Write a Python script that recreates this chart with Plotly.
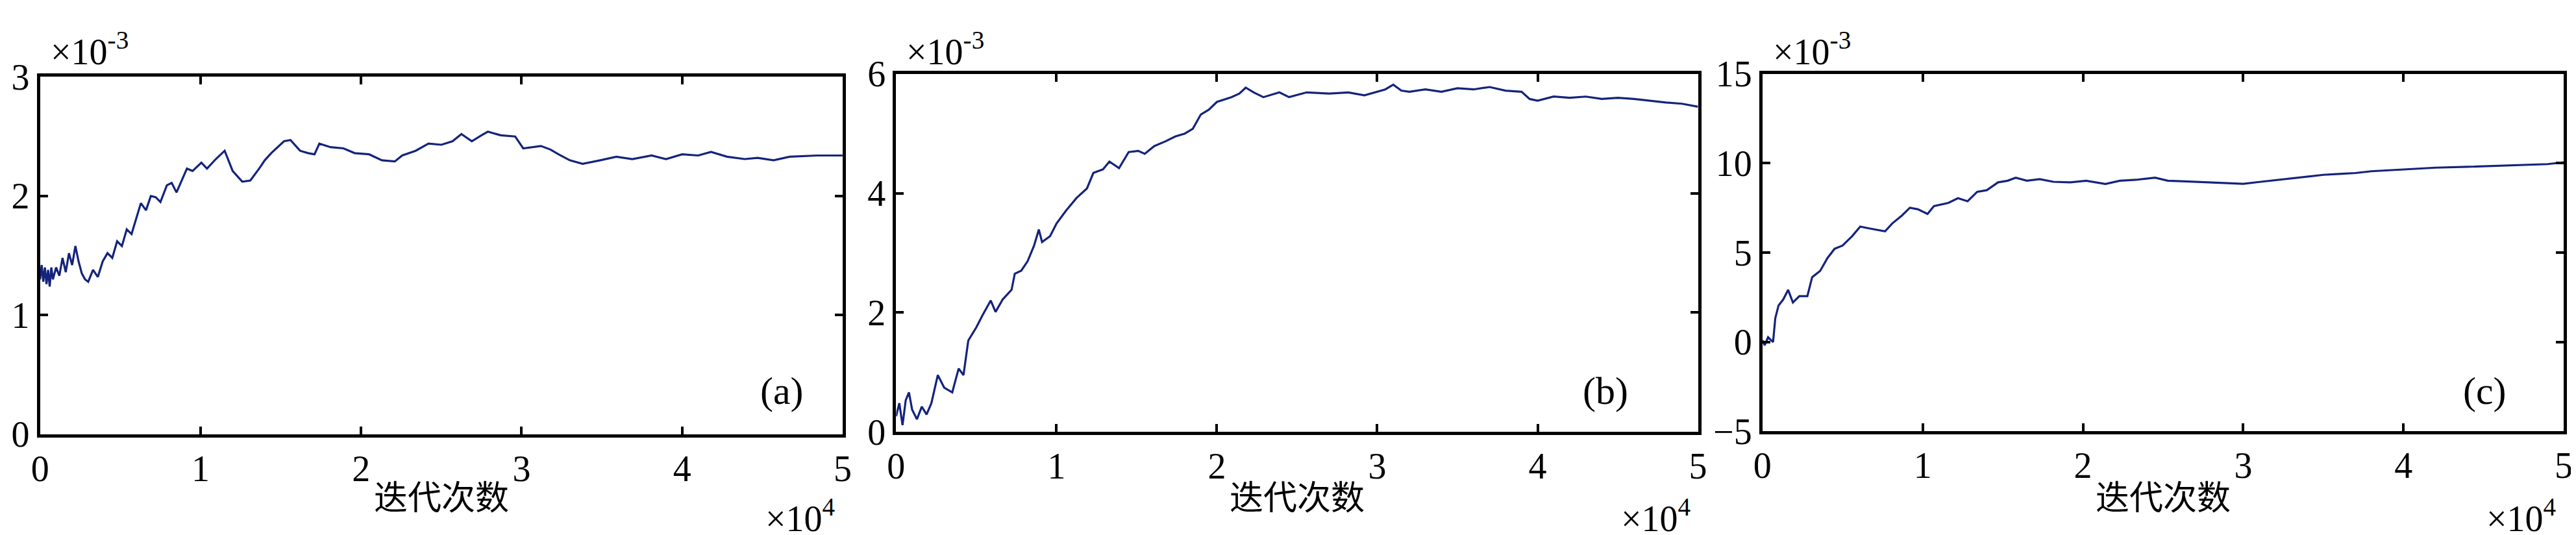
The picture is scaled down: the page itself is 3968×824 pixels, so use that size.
import plotly.graph_objects as go

# ---------------- data (x in units of 1e4 iterations, y in units of 1e-3) ----------------
a_x = [0.00, 0.01, 0.02, 0.03, 0.04, 0.05, 0.06, 0.07, 0.08, 0.10, 0.12, 0.14, 0.16, 0.18,
       0.20, 0.22, 0.24, 0.26, 0.28, 0.30, 0.33, 0.36, 0.39, 0.42, 0.45, 0.48, 0.51, 0.54,
       0.57, 0.60, 0.628, 0.66, 0.69, 0.72, 0.75, 0.79, 0.82, 0.85, 0.88, 0.915, 0.95,
       1.005, 1.04, 1.095, 1.15, 1.20, 1.26, 1.31, 1.365, 1.40, 1.44, 1.52, 1.56, 1.62,
       1.67, 1.71, 1.74, 1.81, 1.89, 1.96, 2.05, 2.13, 2.21, 2.256, 2.34, 2.42, 2.50, 2.57,
       2.625, 2.69, 2.75, 2.79, 2.87, 2.96, 3.01, 3.12, 3.18, 3.23, 3.30, 3.38, 3.49, 3.59,
       3.69, 3.81, 3.90, 4.00, 4.10, 4.18, 4.28, 4.39, 4.47, 4.57, 4.67, 4.84, 5.00]
a_y = [1.30, 1.42, 1.28, 1.40, 1.26, 1.38, 1.24, 1.40, 1.30, 1.40, 1.33, 1.48, 1.36, 1.52,
       1.42, 1.58, 1.45, 1.35, 1.30, 1.28, 1.38, 1.32, 1.45, 1.52, 1.48, 1.62, 1.58, 1.72,
       1.68, 1.82, 1.94, 1.88, 2.00, 1.99, 1.95, 2.09, 2.11, 2.03, 2.12, 2.23, 2.21,
       2.28, 2.23, 2.31, 2.38, 2.21, 2.12, 2.13, 2.23, 2.30, 2.36, 2.46, 2.47, 2.38,
       2.36, 2.35, 2.44, 2.41, 2.40, 2.36, 2.35, 2.30, 2.29, 2.34, 2.38, 2.44, 2.43, 2.46,
       2.52, 2.46, 2.51, 2.54, 2.51, 2.50, 2.40, 2.42, 2.39, 2.35, 2.30, 2.27, 2.30, 2.33,
       2.31, 2.34, 2.31, 2.35, 2.34, 2.37, 2.33, 2.31, 2.32, 2.30, 2.33, 2.34, 2.34]

b_x = [0.00, 0.02, 0.04, 0.06, 0.08, 0.10, 0.13, 0.16, 0.19, 0.22, 0.26, 0.30, 0.35, 0.39,
       0.42, 0.45, 0.50, 0.54, 0.59, 0.62, 0.665, 0.72, 0.74, 0.78, 0.82, 0.86, 0.89, 0.91,
       0.96, 1.00, 1.06, 1.125, 1.19, 1.23, 1.29, 1.33, 1.39, 1.45, 1.51, 1.55, 1.61, 1.68,
       1.74, 1.80, 1.85, 1.90, 1.95, 2.00, 2.09, 2.14, 2.18, 2.23, 2.29, 2.39, 2.45, 2.56,
       2.70, 2.82, 2.92, 3.00, 3.05, 3.10, 3.15, 3.20, 3.30, 3.40, 3.50, 3.60, 3.70, 3.80,
       3.90, 3.95, 4.00, 4.10, 4.20, 4.30, 4.40, 4.50, 4.60, 4.70, 4.80, 4.90, 5.00]
b_y = [0.26, 0.48, 0.11, 0.53, 0.66, 0.37, 0.21, 0.42, 0.29, 0.48, 0.95, 0.74, 0.66, 1.06,
       0.95, 1.53, 1.75, 1.96, 2.20, 2.01, 2.22, 2.38, 2.65, 2.70, 2.86, 3.12, 3.39, 3.18,
       3.28, 3.49, 3.71, 3.92, 4.08, 4.34, 4.40, 4.53, 4.42, 4.69, 4.71, 4.66, 4.79, 4.87,
       4.95, 5.00, 5.08, 5.32, 5.40, 5.53, 5.61, 5.67, 5.77, 5.69, 5.61, 5.69, 5.61, 5.69,
       5.67, 5.69, 5.64, 5.70, 5.74, 5.82, 5.72, 5.70, 5.74, 5.70, 5.76, 5.74, 5.78, 5.72,
       5.70, 5.58, 5.55, 5.62, 5.60, 5.62, 5.58, 5.60, 5.58, 5.55, 5.52, 5.50, 5.45]

c_x = [0.00, 0.014, 0.035, 0.066, 0.08, 0.10, 0.13, 0.16, 0.19, 0.23, 0.28, 0.31, 0.36,
       0.405, 0.45, 0.50, 0.56, 0.61, 0.66, 0.71, 0.765, 0.81, 0.87, 0.92, 0.97, 1.03, 1.07,
       1.16, 1.22, 1.28, 1.34, 1.40, 1.47, 1.53, 1.58, 1.65, 1.73, 1.815, 1.92, 2.02, 2.14,
       2.23, 2.33, 2.45, 2.53, 2.64, 2.76, 2.90, 3.00, 3.10, 3.20, 3.30, 3.40, 3.50, 3.60,
       3.70, 3.80, 3.90, 4.00, 4.20, 4.40, 4.60, 4.80, 4.90, 5.00]
c_y = [0.08, -0.19, 0.26, -0.01, 1.32, 2.03, 2.38, 2.91, 2.20, 2.56, 2.56, 3.62, 3.97,
       4.68, 5.21, 5.39, 5.92, 6.45, 6.36, 6.27, 6.19, 6.63, 7.07, 7.51, 7.42, 7.16, 7.60,
       7.78, 8.04, 7.87, 8.40, 8.49, 8.93, 9.02, 9.19, 9.02, 9.11, 8.96, 8.93, 9.02, 8.84,
       9.02, 9.07, 9.19, 9.02, 8.98, 8.93, 8.90, 8.85, 8.95, 9.05, 9.15, 9.25, 9.35, 9.40,
       9.45, 9.55, 9.60, 9.65, 9.75, 9.80, 9.85, 9.90, 9.95, 10.05]

x_ticks = [0, 1, 2, 3, 4, 5]
x_tick_text = ["0", "1", "2", "3", "4", "5"]
a_ticks = [0, 1, 2, 3]
b_ticks = [0, 2, 4, 6]
c_ticks = [-5, 0, 5, 10, 15]
panel_labels = ["(a)", "(b)", "(c)"]
x_title = "迭代次数"
x_mult = "×10<sup>4</sup>"
y_mult = "×10<sup>-3</sup>"

# ---------------- layout geometry (pixels) ----------------
W, H = 3968, 824
boxes = [(40, 1285, 87, 682), (1368, 2612, 82, 678), (2712, 3955, 82, 677)]
yranges = [(0, 3), (0, 6), (-5, 15)]
yticks = [a_ticks, b_ticks, c_ticks]
series = [(a_x, a_y), (b_x, b_y), (c_x, c_y)]
label_x = [1191, 2468, 3833]

LINE = "#14237c"
FONT = "Liberation Serif"
FS = 56

fig = go.Figure()
ann = []
for i, ((x0, x1, yt, yb), (xs, ys)) in enumerate(zip(boxes, series)):
    n = "" if i == 0 else str(i + 1)
    fig.add_trace(go.Scatter(x=xs, y=ys, mode="lines", line=dict(color=LINE, width=3.2),
                             xaxis="x" + n, yaxis="y" + n, showlegend=False))
    common = dict(showline=True, linewidth=5, linecolor="black", mirror="ticks",
                  ticks="inside", ticklen=12, tickwidth=4, tickcolor="black",
                  showgrid=False, zeroline=False,
                  tickfont=dict(family=FONT, size=FS, color="black"))
    fig.update_layout(**{
        "xaxis" + n: dict(domain=[x0 / W, x1 / W], range=[0, 5], tickvals=x_ticks,
                          ticktext=x_tick_text, anchor="y" + n, **common),
        "yaxis" + n: dict(domain=[1 - yb / H, 1 - yt / H], range=list(yranges[i]),
                          tickvals=yticks[i], anchor="x" + n, **common),
    })
    cx = (x0 + x1) / 2
    ann.append(dict(text=x_title, x=cx / W, y=1 - 783 / H, xref="paper", yref="paper",
                    xanchor="center", yanchor="middle", showarrow=False,
                    font=dict(family="Noto Sans CJK SC", size=52, color="black")))
    ann.append(dict(text=x_mult, x=(x1 - 10) / W, y=1 - 778 / H, xref="paper", yref="paper",
                    xanchor="right", yanchor="top", showarrow=False,
                    font=dict(family=FONT, size=FS, color="black")))
    ann.append(dict(text=y_mult, x=(x0 + 14) / W, y=1 - 0 / H, xref="paper", yref="paper",
                    xanchor="left", yanchor="top", showarrow=False,
                    font=dict(family=FONT, size=FS, color="black")))
    ann.append(dict(text=panel_labels[i], x=label_x[i] / W, y=1 - 610 / H, xref="paper",
                    yref="paper", xanchor="center", yanchor="middle", showarrow=False,
                    font=dict(family=FONT, size=60, color="black")))

fig.update_layout(width=W, height=H, margin=dict(l=0, r=0, t=0, b=0),
                  paper_bgcolor="white", plot_bgcolor="white", annotations=ann,
                  showlegend=False)
fig.write_html("out.html")
